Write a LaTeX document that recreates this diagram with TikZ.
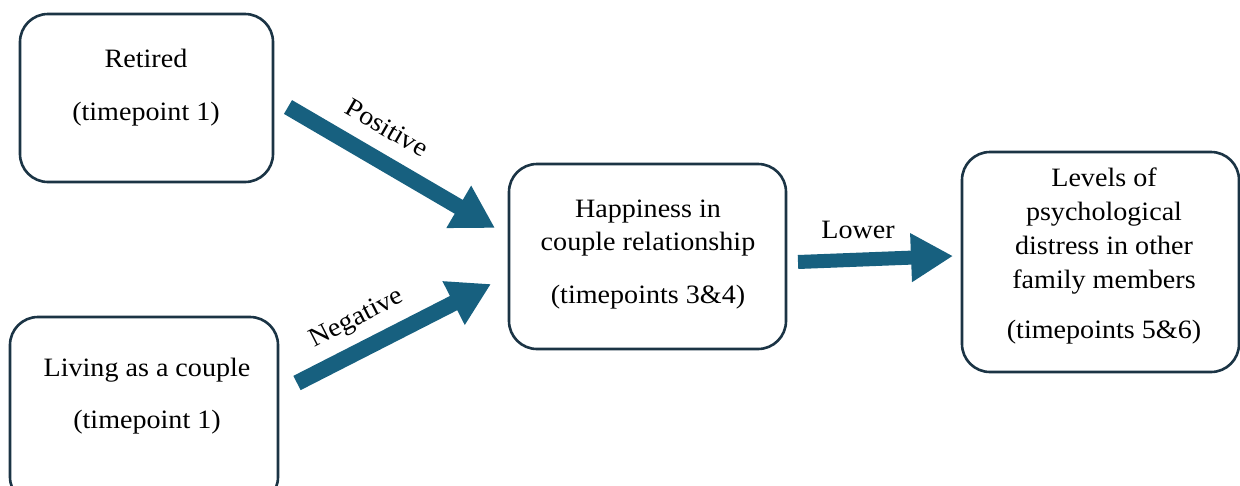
\documentclass[tikz,border=0pt]{standalone}
\usepackage{fontspec}
\setmainfont{Liberation Serif}[FakeStretch=1.06]
\usetikzlibrary{arrows.meta}
\definecolor{boxline}{HTML}{1B3445}
\definecolor{arrowblue}{HTML}{17607F}
\begin{document}
\begin{tikzpicture}[x=1pt,y=-1pt,
  box/.style={draw=boxline, line width=2.6pt, rounded corners=28pt, fill=white},
  txt/.style={font=\fontsize{26.5}{34}\selectfont, text=black, inner sep=0pt, anchor=base},
  lbl/.style={font=\fontsize{26.5}{34}\selectfont, text=black, inner sep=0pt},
  bigarrow/.style={draw=arrowblue, line width=16pt, -{Triangle[length=42pt,width=46pt]}}
]
\useasboundingbox (0,0) rectangle (1240,485);
% boxes
\draw[box] (20,14) rectangle (273,182);
\draw[box] (10,317) rectangle (278,505);
\draw[box] (509,164) rectangle (786,349);
\draw[box] (962,152) rectangle (1239,372);
% box texts
\node[txt] (r1) at (146,67) {Retired};
\node[txt] (r2) at (146,120) {(timepoint 1)};
\node[txt] (l1) at (147,376) {Living as a couple};
\node[txt] (l2) at (147,428) {(timepoint 1)};
\node[txt] (h1) at (648,217) {Happiness in};
\node[txt] (h2) at (648,250) {couple relationship};
\node[txt] (h3) at (648,303) {(timepoints 3\&4)};
\node[txt] (v1) at (1104,186) {Levels of};
\node[txt] (v2) at (1104,220) {psychological};
\node[txt] (v3) at (1104,254) {distress in other};
\node[txt] (v4) at (1104,288) {family members};
\node[txt] (v5) at (1104,338) {(timepoints 5\&6)};
% arrows
\coordinate (pa) at (288,107);
\coordinate (pb) at (495,228);
\coordinate (na) at (297,383);
\coordinate (nb) at (491,284);
\coordinate (wa) at (798,262);
\coordinate (wb) at (953,256);
\draw[bigarrow] (pa) -- (pb);
\draw[bigarrow] (na) -- (nb);
\draw[bigarrow, line width=14pt] (wa) -- (wb);
% labels
\node[lbl, rotate=-30] (pl) at (387,128) {Positive};
\node[lbl, rotate=27] (nl) at (357,319) {Negative};
\node[lbl] (wl) at (858,230) {Lower};
\end{tikzpicture}
\end{document}
